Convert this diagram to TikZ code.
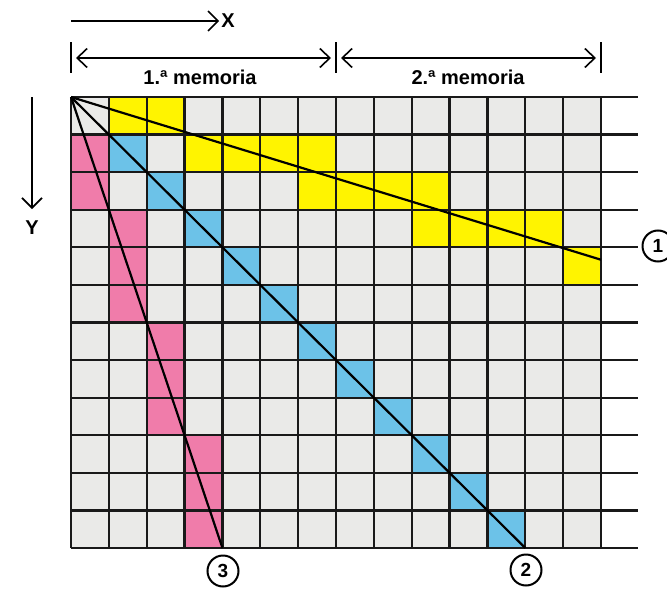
\documentclass[tikz,border=0pt]{standalone}
\usepackage{fontspec}
\setmainfont{Liberation Sans}
\usetikzlibrary{arrows.meta}
\definecolor{cellgray}{RGB}{234,234,232}
\definecolor{yel}{RGB}{255,244,0}
\definecolor{blu}{RGB}{108,194,232}
\definecolor{pnk}{RGB}{240,124,170}
\tikzset{
  gridline/.style={line width=2.3pt, black!90},
  diagline/.style={line width=2.2pt, black},
  arr/.style={line width=1.6pt, -{Straight Barb[length=10pt,width=20pt,line width=1.6pt]}},
  dimarr/.style={line width=1.6pt, {Straight Barb[length=10pt,width=19pt,line width=1.6pt]}-{Straight Barb[length=10pt,width=19pt,line width=1.6pt]}, shorten <=5pt, shorten >=5pt},
  dimbar/.style={line width=2pt},
  lbl/.style={font=\bfseries\fontsize{20}{20}\selectfont, inner sep=0pt},
  numc/.style={circle, draw, line width=2pt, minimum size=31pt, inner sep=0pt, fill=white, font=\bfseries\fontsize{19}{19}\selectfont}
}
\begin{document}
\begin{tikzpicture}[x=1pt,y=-1pt]
\useasboundingbox[fill=white] (0,0) rectangle (667,589);
% grid
\begin{scope}[xshift=71pt, yshift=-97pt, x=37.857pt, y=-37.583pt]
  \fill[cellgray] (0,0) rectangle (14,12);
  \foreach \c/\r in {1/0,2/0,3/1,4/1,5/1,6/1,6/2,7/2,8/2,9/2,9/3,10/3,11/3,12/3,13/4}
    \fill[yel] (\c,\r) rectangle ++(1,1);
  \foreach \r in {1,...,11}
    \fill[blu] (\r,\r) rectangle ++(1,1);
  \foreach \c/\r in {0/1,0/2,1/3,1/4,1/5,2/6,2/7,2/8,3/9,3/10,3/11}
    \fill[pnk] (\c,\r) rectangle ++(1,1);
  \foreach \i in {0,...,14}
    \draw[gridline] (\i,0) -- (\i,12);
  \foreach \j in {0,...,12}
    \draw[gridline] (0,\j) -- (14.98,\j);
  \coordinate (O) at (0,0);
  \coordinate (E1) at (14,4.33);
  \coordinate (E2) at (12,12);
  \coordinate (E3) at (4,12);
  \draw[diagline] (O) -- (E1);
  \draw[diagline] (O) -- (E2);
  \draw[diagline] (O) -- (E3);
\end{scope}
% circled numbers
\node[numc] (c1) at (658,246) {1};
\node[numc] (c2) at (526,570) {2};
\node[numc] (c3) at (223,571) {3};
% X axis arrow
\coordinate (xs) at (71,21);
\node[lbl] (xl) at (228,21) {X};
\draw[arr] (xs) -- ([xshift=-2pt]xl.west);
% Y axis arrow
\coordinate (ys) at (32,97);
\coordinate (ye) at (32,209);
\node[lbl] (yl) at (32,228) {Y};
\draw[arr] (ys) -- (ye);
% dimension lines
\coordinate (b1t) at (71,42);  \coordinate (b1b) at (71,73);
\coordinate (b2t) at (336,42); \coordinate (b2b) at (336,73);
\coordinate (b3t) at (601,42); \coordinate (b3b) at (601,73);
\draw[dimbar] (b1t) -- (b1b);
\draw[dimbar] (b2t) -- (b2b);
\draw[dimbar] (b3t) -- (b3b);
\coordinate (d1) at (71,58);
\coordinate (d2) at (336,58);
\coordinate (d3) at (601,58);
\draw[dimarr] (d1) -- (d2);
\draw[dimarr] (d2) -- (d3);
\node[lbl] (m1) at (200,77) {1.ª memoria};
\node[lbl] (m2) at (468,77) {2.ª memoria};
\end{tikzpicture}
\end{document}
